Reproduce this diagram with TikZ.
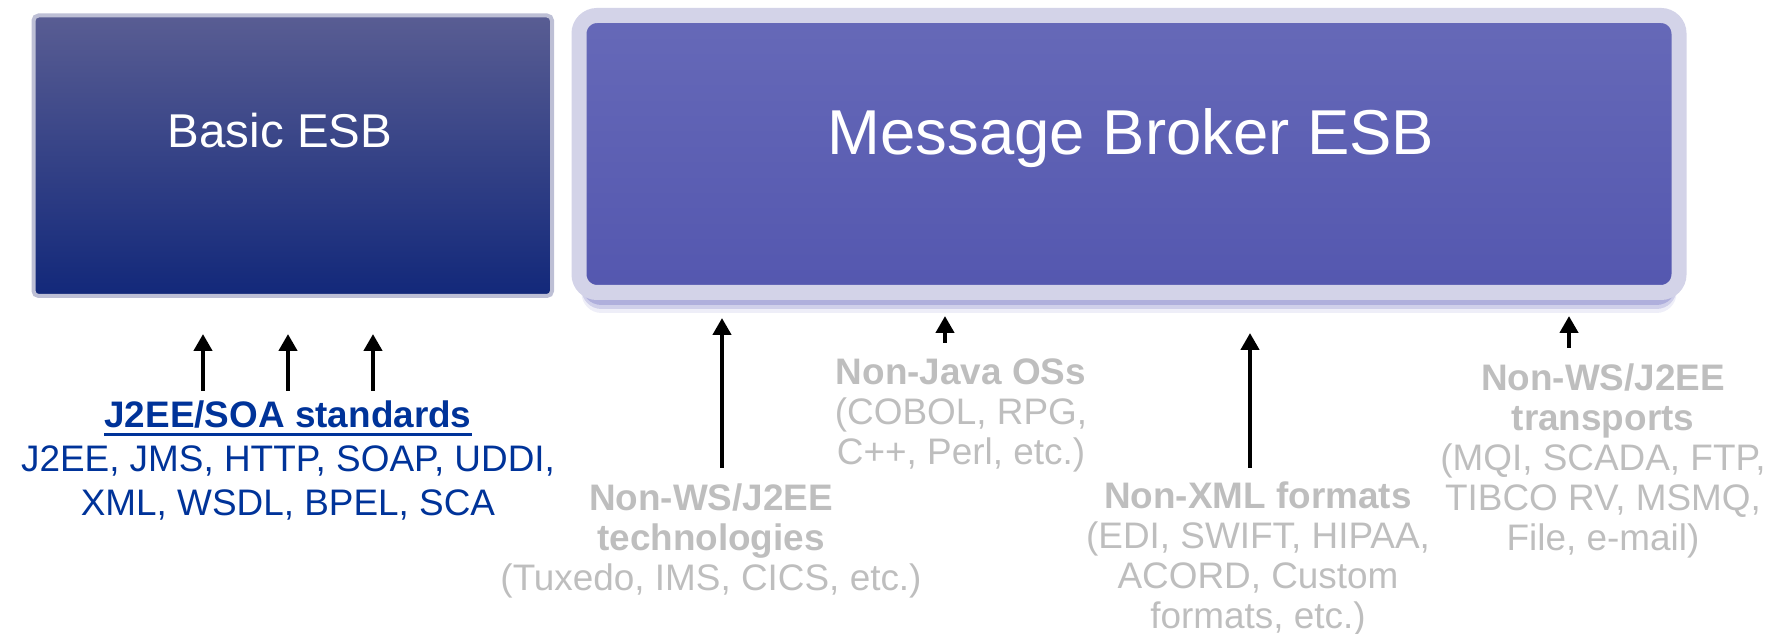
\documentclass[tikz,border=0pt]{standalone}
\usepackage{fontspec}
\setmainfont{Liberation Sans}
\usetikzlibrary{arrows.meta,backgrounds}

\definecolor{basictop}{HTML}{595D93}
\definecolor{basicmid}{HTML}{333E80}
\definecolor{basicbot}{HTML}{12287A}
\definecolor{basicrim}{HTML}{BDBFD5}
\definecolor{brokertop}{HTML}{6669B8}
\definecolor{brokerbot}{HTML}{5457AF}
\definecolor{brokerrim}{HTML}{D3D3E8}
\definecolor{shadowc}{HTML}{ABABDA}
\definecolor{stdblue}{HTML}{003399}
\definecolor{faded}{HTML}{BEBEBE}

% heavy underline for the standards heading
\newcommand{\stdunderline}[1]{\vtop{\hbox{#1}\kern2.8pt\hrule height1.7pt}}

\begin{document}
\begin{tikzpicture}[title/.style={white,anchor=base,inner sep=0pt},
  note/.style={faded,align=center,anchor=north,inner sep=0pt,font=\fontsize{21}{22.8}\selectfont},
  arr/.style={-{Triangle[width=0.36cm,length=0.34cm]},line width=2.6pt}]
\useasboundingbox (0,0) rectangle (35.62,12.68);

% the two buses
\node (basic) [draw=basicrim,line width=0.08cm,rounded corners=0.1cm,inner sep=0pt,
  minimum width=10.37cm,minimum height=5.61cm,top color=basictop,middle color=basicmid,
  bottom color=basicbot] at (5.855,9.565) {};
\node (broker) [draw=brokerrim,line width=0.3cm,rounded corners=0.36cm,inner sep=0pt,
  minimum width=22cm,minimum height=5.54cm,top color=brokertop,bottom color=brokerbot]
  at (22.58,9.60) {};
\begin{scope}[on background layer]
  \foreach \d/\o in {0.1cm/0.9,0.18cm/0.45,0.26cm/0.2}
    \fill[shadowc,opacity=\o,rounded corners=0.4cm] ([xshift=0.2cm,yshift=-\d]broker.south west)
      rectangle ([xshift=-0.2cm,yshift=-0.5cm]broker.north east);
\end{scope}
\node (basictext) [title,font=\fontsize{27}{30}\selectfont] at (5.60,9.72) {Basic ESB};
\node (brokertext) [title,font=\fontsize{36.1}{40}\selectfont] at (22.62,9.58) {Message Broker ESB};

% what plugs into them
\node (std) [note,stdblue,font=\fontsize{21}{25}\selectfont] at (5.76,4.67)
  {\stdunderline{\textbf{J2EE/SOA standards}}\\J2EE, JMS, HTTP, SOAP, UDDI,\\XML, WSDL, BPEL, SCA};
\node (tech) [note] at (14.22,3.01)
  {\textbf{Non-WS/J2EE}\\\textbf{technologies}\\(Tuxedo, IMS, CICS, etc.)};
\node (os) [note] at (19.22,5.51)
  {\textbf{Non-Java OSs}\\(COBOL, RPG,\\C++, Perl, etc.)};
\node (fmt) [note] at (25.16,3.05)
  {\textbf{Non-XML formats}\\(EDI, SWIFT, HIPAA,\\ACORD, Custom\\formats, etc.)};
\node (trans) [note] at (32.06,5.41)
  {\textbf{Non-WS/J2EE}\\\textbf{transports}\\(MQI, SCADA, FTP,\\TIBCO RV, MSMQ,\\File, e-mail)};

\foreach \dx in {-1.7,0,1.7}
  \draw[arr] ([xshift=\dx cm,yshift=0.19cm]std.north) -- ([xshift=\dx cm,yshift=-0.72cm]std.north |- basic.south);
\draw[arr] ([xshift=0.22cm,yshift=0.31cm]tech.north) -- ([xshift=0.22cm,yshift=-0.36cm]tech.north |- broker.south);
\draw[arr] ([xshift=-0.32cm,yshift=0.31cm]os.north) -- ([xshift=-0.32cm,yshift=-0.32cm]os.north |- broker.south);
\draw[arr] ([xshift=-0.16cm,yshift=0.27cm]fmt.north) -- ([xshift=-0.16cm,yshift=-0.66cm]fmt.north |- broker.south);
\draw[arr] ([xshift=-0.68cm,yshift=0.31cm]trans.north) -- ([xshift=-0.68cm,yshift=-0.32cm]trans.north |- broker.south);
\end{tikzpicture}
\end{document}
